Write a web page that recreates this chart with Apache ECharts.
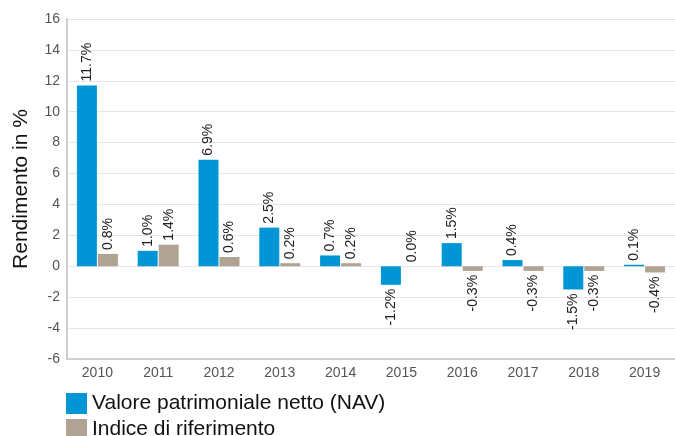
<!DOCTYPE html>
<html><head><meta charset="utf-8">
<script src="https://cdn.jsdelivr.net/npm/echarts@6/dist/echarts.min.js"></script>
<style>html,body{margin:0;padding:0;background:#fff}#c{width:675px;height:436px}</style>
</head><body><div id="c"></div>
<script>
const categories = ['2010','2011','2012','2013','2014','2015','2016','2017','2018','2019'];
const navValues = [11.7, 1.0, 6.9, 2.5, 0.7, -1.2, 1.5, 0.4, -1.5, 0.1];
const indexValues = [0.8, 1.4, 0.6, 0.2, 0.2, 0.0, -0.3, -0.3, -0.3, -0.4];
const seriesNames = ['Valore patrimoniale netto (NAV)', 'Indice di riferimento'];
const yTicks = {min: -6, max: 16, interval: 2};

function toData(arr) {
  return arr.map(v => ({
    value: v,
    label: v >= 0
      ? {position: 'top', align: 'left', verticalAlign: 'middle'}
      : {position: 'bottom', align: 'right', verticalAlign: 'middle'}
  }));
}
const labelBase = {
  show: true, rotate: 90, distance: 4, fontSize: 14, color: '#222',
  fontFamily: 'Liberation Sans',
  formatter: p => p.value.toFixed(1) + '%'
};
const chart = echarts.init(document.getElementById('c'));
chart.setOption({
  animation: false,
  textStyle: {fontFamily: 'Liberation Sans'},
  grid: {left: 67, top: 19, width: 609, height: 340},
  legend: {
    orient: 'vertical', left: 61, top: 388, height: 80, itemWidth: 21, itemHeight: 21, itemGap: 5,
    icon: 'rect',
    textStyle: {fontSize: 21, color: '#111', fontFamily: 'Liberation Sans'},
    data: seriesNames
  },
  xAxis: {
    type: 'category', data: categories,
    axisLine: {onZero: false, lineStyle: {color: '#d0d0d0', width: 2}},
    axisTick: {show: false},
    axisLabel: {fontSize: 14, color: '#555', margin: 7}
  },
  yAxis: {
    type: 'value', min: yTicks.min, max: yTicks.max, interval: yTicks.interval,
    name: 'Rendimento in %', nameLocation: 'middle', nameGap: 35, nameRotate: 90,
    nameTextStyle: {fontSize: 21, color: '#111'},
    axisLine: {show: true, lineStyle: {color: '#d0d0d0', width: 2}},
    axisTick: {show: false},
    axisLabel: {fontSize: 14, color: '#555', margin: 7},
    splitLine: {lineStyle: {color: '#e6e6e6'}}
  },
  series: [
    {name: seriesNames[0], type: 'bar', data: toData(navValues), barWidth: 20, barGap: '5%',
     itemStyle: {color: '#0096d6'}, label: labelBase},
    {name: seriesNames[1], type: 'bar', data: toData(indexValues), barWidth: 20,
     itemStyle: {color: '#b1a394'}, label: labelBase}
  ]
});
</script></body></html>
